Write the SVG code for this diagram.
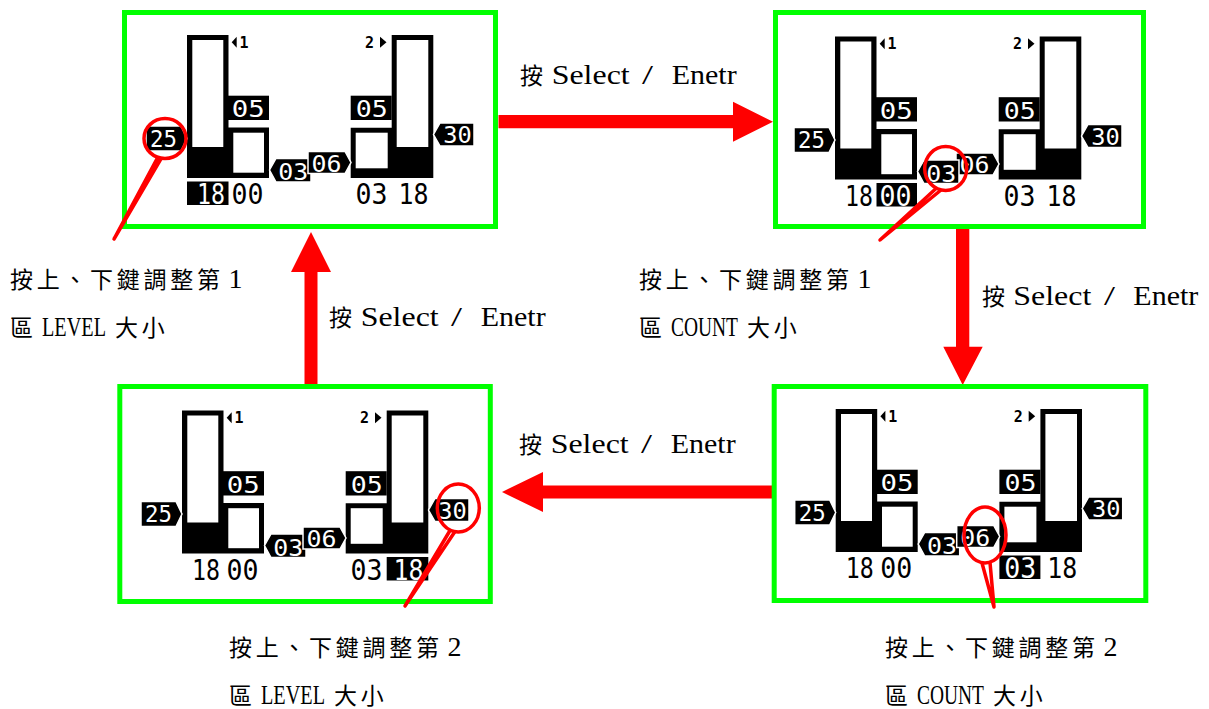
<svg xmlns="http://www.w3.org/2000/svg" width="1209" height="709" viewBox="0 0 1209 709">
<style>
.frame{fill:none;stroke:#00ff00;stroke-width:5}
.blk{fill:#000}
.wht{fill:#fff}
.tag{fill:#000;stroke:#fff;stroke-width:1.5}
.d{font-family:"DejaVu Sans Mono",monospace;font-size:23px;fill:#fff}
.b{font-family:"DejaVu Sans Mono",monospace;font-size:28px;fill:#000}
.bw{font-family:"DejaVu Sans Mono",monospace;font-size:28px;fill:#fff}
.ic{font-family:"DejaVu Sans Mono",monospace;font-size:15px;font-weight:bold;fill:#000}
.call{fill:none;stroke:#ff0000;stroke-width:3.5;stroke-linejoin:round}
.arrow{fill:#ff0000}
.cjk{font-family:"Noto Sans CJK TC","Noto Sans CJK SC",sans-serif;font-size:23px;letter-spacing:3.7px;fill:#000}
.lat{font-family:"Liberation Serif","Noto Sans CJK TC",serif;font-size:28px;fill:#000}
</style>

<g id="connectors">
  <polygon class="arrow" points="498.5,115 733,115 733,101.7 773,121.7 733,141.7 733,128.3 498.5,128.3"/>
  <polygon class="arrow" points="956,229 969.3,229 969.3,346.7 982.7,346.7 962.7,385 943.3,346.7 956,346.7"/>
  <polygon class="arrow" points="772,485.5 543,485.5 543,472 502,492 543,512 543,498.5 772,498.5"/>
  <polygon class="arrow" points="304.5,384 317.5,384 317.5,272 331,272 311,232 291,272 304.5,272"/>
</g>

<g id="panel1">
  <rect class="frame" x="124.5" y="12.5" width="371" height="214"/>
  <g transform="translate(0,0)">
    <path class="blk" d="M187,35 H228.5 V127.5 H269 V178 H187 Z"/>
    <rect class="wht" x="192.3" y="40" width="31" height="107"/>
    <rect class="wht" x="233.3" y="132.7" width="30.7" height="40"/>
    <rect class="blk" x="228" y="95.7" width="41" height="24.3"/>
    <text class="d" x="231.7" y="117" textLength="33" lengthAdjust="spacingAndGlyphs">05</text>
    <polygon class="blk" points="231.7,42.2 236.7,36.7 236.7,47.7"/>
    <text class="ic" x="239.5" y="47.7">1</text>
    <path class="blk" d="M391.7,35 H433.3 V178 H350.7 V127.7 H391.7 Z"/>
    <rect class="wht" x="396.7" y="40" width="31.6" height="107"/>
    <rect class="wht" x="355.7" y="132.7" width="32" height="35.6"/>
    <rect class="blk" x="350.7" y="95.7" width="41" height="24.3"/>
    <text class="d" x="355.7" y="117" textLength="32" lengthAdjust="spacingAndGlyphs">05</text>
    <text class="ic" x="365" y="47.7">2</text>
    <polygon class="blk" points="380,36.7 380,47.7 386.5,42.2"/>
    <polygon class="tag" points="146,126 181,126 187,138.5 181,151 146,151"/>
    <text class="d" x="150" y="146.5" textLength="27" lengthAdjust="spacingAndGlyphs">25</text>
    <polygon class="tag" points="433.5,134.5 440,123 474,123 474,146 440,146"/>
    <text class="d" x="443.3" y="143.3" textLength="28.5" lengthAdjust="spacingAndGlyphs">30</text>
    <polygon class="tag" points="269.5,170 276,158.5 311,158.5 311,182 276,182"/>
    <text class="d" x="278.3" y="180" textLength="30" lengthAdjust="spacingAndGlyphs">03</text>
    <polygon class="tag" points="308,151.5 345,151.5 351,162.5 345,173.5 308,173.5"/>
    <text class="d" x="311.5" y="171.5" textLength="30" lengthAdjust="spacingAndGlyphs">06</text>
    <rect class="blk" x="187" y="181.5" width="41.5" height="23.5"/>
    <text class="bw" x="197" y="204" textLength="28" lengthAdjust="spacingAndGlyphs">18</text>
    <text class="b" x="231.5" y="204" textLength="32" lengthAdjust="spacingAndGlyphs">00</text>
    <text class="b" x="355.5" y="204" textLength="32" lengthAdjust="spacingAndGlyphs">03</text>
    <text class="b" x="398.5" y="204" textLength="30" lengthAdjust="spacingAndGlyphs">18</text>
  </g>
  <ellipse class="call" cx="165" cy="138.5" rx="21" ry="20"/>
  <path class="call" d="M157.8,157.3 L114,239 L161.4,158.2"/>
</g>

<g id="panel2">
  <rect class="frame" x="775.5" y="12.5" width="368" height="214"/>
  <g transform="translate(648,1.5)">
    <path class="blk" d="M187,35 H228.5 V127.5 H269 V178 H187 Z"/>
    <rect class="wht" x="192.3" y="40" width="31" height="107"/>
    <rect class="wht" x="233.3" y="132.7" width="30.7" height="40"/>
    <rect class="blk" x="228" y="95.7" width="41" height="24.3"/>
    <text class="d" x="231.7" y="117" textLength="33" lengthAdjust="spacingAndGlyphs">05</text>
    <polygon class="blk" points="231.7,42.2 236.7,36.7 236.7,47.7"/>
    <text class="ic" x="239.5" y="47.7">1</text>
    <path class="blk" d="M391.7,35 H433.3 V178 H350.7 V127.7 H391.7 Z"/>
    <rect class="wht" x="396.7" y="40" width="31.6" height="107"/>
    <rect class="wht" x="355.7" y="132.7" width="32" height="35.6"/>
    <rect class="blk" x="350.7" y="95.7" width="41" height="24.3"/>
    <text class="d" x="355.7" y="117" textLength="32" lengthAdjust="spacingAndGlyphs">05</text>
    <text class="ic" x="365" y="47.7">2</text>
    <polygon class="blk" points="380,36.7 380,47.7 386.5,42.2"/>
    <polygon class="tag" points="146,126 181,126 187,138.5 181,151 146,151"/>
    <text class="d" x="150" y="146.5" textLength="27" lengthAdjust="spacingAndGlyphs">25</text>
    <polygon class="tag" points="433.5,134.5 440,123 474,123 474,146 440,146"/>
    <text class="d" x="443.3" y="143.3" textLength="28.5" lengthAdjust="spacingAndGlyphs">30</text>
    <polygon class="tag" points="308,151.5 345,151.5 351,162.5 345,173.5 308,173.5"/>
    <text class="d" x="311.5" y="171.5" textLength="30" lengthAdjust="spacingAndGlyphs">06</text>
    <polygon class="tag" points="269.5,170 276,158.5 311,158.5 311,182 276,182"/>
    <text class="d" x="278.3" y="180" textLength="30" lengthAdjust="spacingAndGlyphs">03</text>
    <text class="b" x="197" y="204" textLength="28" lengthAdjust="spacingAndGlyphs">18</text>
    <rect class="blk" x="228.5" y="181.5" width="40.5" height="23.5"/>
    <text class="bw" x="231.5" y="204" textLength="32" lengthAdjust="spacingAndGlyphs">00</text>
    <text class="b" x="355.5" y="204" textLength="32" lengthAdjust="spacingAndGlyphs">03</text>
    <text class="b" x="398.5" y="204" textLength="30" lengthAdjust="spacingAndGlyphs">18</text>
  </g>
  <ellipse class="call" cx="945.7" cy="168.5" rx="21" ry="22"/>
  <path class="call" d="M936,188.5 L880,240 L941,190"/>
</g>

<g id="panel3">
  <rect class="frame" x="119.8" y="386.5" width="370.5" height="215"/>
  <g transform="translate(-5,375.5)">
    <path class="blk" d="M187,35 H228.5 V127.5 H269 V178 H187 Z"/>
    <rect class="wht" x="192.3" y="40" width="31" height="107"/>
    <rect class="wht" x="233.3" y="132.7" width="30.7" height="40"/>
    <rect class="blk" x="228" y="95.7" width="41" height="24.3"/>
    <text class="d" x="231.7" y="117" textLength="33" lengthAdjust="spacingAndGlyphs">05</text>
    <polygon class="blk" points="231.7,42.2 236.7,36.7 236.7,47.7"/>
    <text class="ic" x="239.5" y="47.7">1</text>
    <path class="blk" d="M391.7,35 H433.3 V178 H350.7 V127.7 H391.7 Z"/>
    <rect class="wht" x="396.7" y="40" width="31.6" height="107"/>
    <rect class="wht" x="355.7" y="132.7" width="32" height="35.6"/>
    <rect class="blk" x="350.7" y="95.7" width="41" height="24.3"/>
    <text class="d" x="355.7" y="117" textLength="32" lengthAdjust="spacingAndGlyphs">05</text>
    <text class="ic" x="365" y="47.7">2</text>
    <polygon class="blk" points="380,36.7 380,47.7 386.5,42.2"/>
    <polygon class="tag" points="146,126 181,126 187,138.5 181,151 146,151"/>
    <text class="d" x="150" y="146.5" textLength="27" lengthAdjust="spacingAndGlyphs">25</text>
    <polygon class="tag" points="433.5,134.5 440,123 474,123 474,146 440,146"/>
    <text class="d" x="443.3" y="143.3" textLength="28.5" lengthAdjust="spacingAndGlyphs">30</text>
    <polygon class="tag" points="269.5,170 276,158.5 311,158.5 311,182 276,182"/>
    <text class="d" x="278.3" y="180" textLength="30" lengthAdjust="spacingAndGlyphs">03</text>
    <polygon class="tag" points="308,151.5 345,151.5 351,162.5 345,173.5 308,173.5"/>
    <text class="d" x="311.5" y="171.5" textLength="30" lengthAdjust="spacingAndGlyphs">06</text>
    <text class="b" x="197" y="204" textLength="28" lengthAdjust="spacingAndGlyphs">18</text>
    <text class="b" x="231.5" y="204" textLength="32" lengthAdjust="spacingAndGlyphs">00</text>
    <text class="b" x="355.5" y="204" textLength="32" lengthAdjust="spacingAndGlyphs">03</text>
    <rect class="blk" x="391.7" y="181.5" width="41.6" height="23.5"/>
    <text class="bw" x="398.5" y="204" textLength="30" lengthAdjust="spacingAndGlyphs">18</text>
  </g>
  <ellipse class="call" cx="458.3" cy="508" rx="21" ry="24"/>
  <path class="call" d="M450,530.5 L405,606 L455,531.5"/>
</g>

<g id="panel4">
  <rect class="frame" x="774.2" y="386.5" width="371.6" height="214"/>
  <g transform="translate(648.7,374)">
    <path class="blk" d="M187,35 H228.5 V127.5 H269 V178 H187 Z"/>
    <rect class="wht" x="192.3" y="40" width="31" height="107"/>
    <rect class="wht" x="233.3" y="132.7" width="30.7" height="40"/>
    <rect class="blk" x="228" y="95.7" width="41" height="24.3"/>
    <text class="d" x="231.7" y="117" textLength="33" lengthAdjust="spacingAndGlyphs">05</text>
    <polygon class="blk" points="231.7,42.2 236.7,36.7 236.7,47.7"/>
    <text class="ic" x="239.5" y="47.7">1</text>
    <path class="blk" d="M391.7,35 H433.3 V178 H350.7 V127.7 H391.7 Z"/>
    <rect class="wht" x="396.7" y="40" width="31.6" height="107"/>
    <rect class="wht" x="355.7" y="132.7" width="32" height="35.6"/>
    <rect class="blk" x="350.7" y="95.7" width="41" height="24.3"/>
    <text class="d" x="355.7" y="117" textLength="32" lengthAdjust="spacingAndGlyphs">05</text>
    <text class="ic" x="365" y="47.7">2</text>
    <polygon class="blk" points="380,36.7 380,47.7 386.5,42.2"/>
    <polygon class="tag" points="146,126 181,126 187,138.5 181,151 146,151"/>
    <text class="d" x="150" y="146.5" textLength="27" lengthAdjust="spacingAndGlyphs">25</text>
    <polygon class="tag" points="433.5,134.5 440,123 474,123 474,146 440,146"/>
    <text class="d" x="443.3" y="143.3" textLength="28.5" lengthAdjust="spacingAndGlyphs">30</text>
    <polygon class="tag" points="269.5,170 276,158.5 311,158.5 311,182 276,182"/>
    <text class="d" x="278.3" y="180" textLength="30" lengthAdjust="spacingAndGlyphs">03</text>
    <polygon class="tag" points="308,151.5 345,151.5 351,162.5 345,173.5 308,173.5"/>
    <text class="d" x="311.5" y="171.5" textLength="30" lengthAdjust="spacingAndGlyphs">06</text>
    <text class="b" x="197" y="204" textLength="28" lengthAdjust="spacingAndGlyphs">18</text>
    <text class="b" x="231.5" y="204" textLength="32" lengthAdjust="spacingAndGlyphs">00</text>
    <rect class="blk" x="350.7" y="181.5" width="41" height="23.5"/>
    <text class="bw" x="355.5" y="204" textLength="32" lengthAdjust="spacingAndGlyphs">03</text>
    <text class="b" x="398.5" y="204" textLength="30" lengthAdjust="spacingAndGlyphs">18</text>
  </g>
  <ellipse class="call" cx="985" cy="535" rx="21" ry="28"/>
  <path class="call" d="M982,563 L994,607 L990,562.5"/>
</g>

<g id="labels">
  <g id="lbl-top">
    <text class="cjk" x="520" y="84">按</text>
    <text class="lat" x="551.7" y="84" textLength="78" lengthAdjust="spacingAndGlyphs">Select</text>
    <text class="lat" x="642" y="84" textLength="11" lengthAdjust="spacingAndGlyphs">/</text>
    <text class="lat" x="671.7" y="84" textLength="65" lengthAdjust="spacingAndGlyphs">Enetr</text>
  </g>
  <g id="lbl-right">
    <text class="cjk" x="982" y="304.5">按</text>
    <text class="lat" x="1013.3" y="304.5" textLength="78" lengthAdjust="spacingAndGlyphs">Select</text>
    <text class="lat" x="1104" y="304.5" textLength="11" lengthAdjust="spacingAndGlyphs">/</text>
    <text class="lat" x="1133.3" y="304.5" textLength="65" lengthAdjust="spacingAndGlyphs">Enetr</text>
  </g>
  <g id="lbl-left">
    <text class="cjk" x="329" y="326">按</text>
    <text class="lat" x="360.7" y="326" textLength="78" lengthAdjust="spacingAndGlyphs">Select</text>
    <text class="lat" x="451" y="326" textLength="11" lengthAdjust="spacingAndGlyphs">/</text>
    <text class="lat" x="480.7" y="326" textLength="65" lengthAdjust="spacingAndGlyphs">Enetr</text>
  </g>
  <g id="lbl-bottom">
    <text class="cjk" x="519" y="453">按</text>
    <text class="lat" x="550.7" y="453" textLength="78" lengthAdjust="spacingAndGlyphs">Select</text>
    <text class="lat" x="641" y="453" textLength="11" lengthAdjust="spacingAndGlyphs">/</text>
    <text class="lat" x="670.7" y="453" textLength="65" lengthAdjust="spacingAndGlyphs">Enetr</text>
  </g>

  <g id="note1">
    <text class="cjk" x="10" y="288">按上、下鍵調整第</text>
    <text class="lat" x="235.5" y="288" text-anchor="middle">1</text>
    <text class="cjk" x="10" y="336">區</text>
    <text class="lat" x="42" y="336" textLength="64" lengthAdjust="spacingAndGlyphs">LEVEL</text>
    <text class="cjk" x="115" y="336">大小</text>
  </g>
  <g id="note2">
    <text class="cjk" x="639" y="288">按上、下鍵調整第</text>
    <text class="lat" x="864.5" y="288" text-anchor="middle">1</text>
    <text class="cjk" x="639" y="336">區</text>
    <text class="lat" x="671" y="336" textLength="67" lengthAdjust="spacingAndGlyphs">COUNT</text>
    <text class="cjk" x="747" y="336">大小</text>
  </g>
  <g id="note3">
    <text class="cjk" x="229" y="655.5">按上、下鍵調整第</text>
    <text class="lat" x="454.5" y="655.5" text-anchor="middle">2</text>
    <text class="cjk" x="229" y="703.5">區</text>
    <text class="lat" x="261" y="703.5" textLength="64" lengthAdjust="spacingAndGlyphs">LEVEL</text>
    <text class="cjk" x="334" y="703.5">大小</text>
  </g>
  <g id="note4">
    <text class="cjk" x="885" y="655.5">按上、下鍵調整第</text>
    <text class="lat" x="1110.5" y="655.5" text-anchor="middle">2</text>
    <text class="cjk" x="885" y="703.5">區</text>
    <text class="lat" x="917" y="703.5" textLength="67" lengthAdjust="spacingAndGlyphs">COUNT</text>
    <text class="cjk" x="993" y="703.5">大小</text>
  </g>
</g>
</svg>
